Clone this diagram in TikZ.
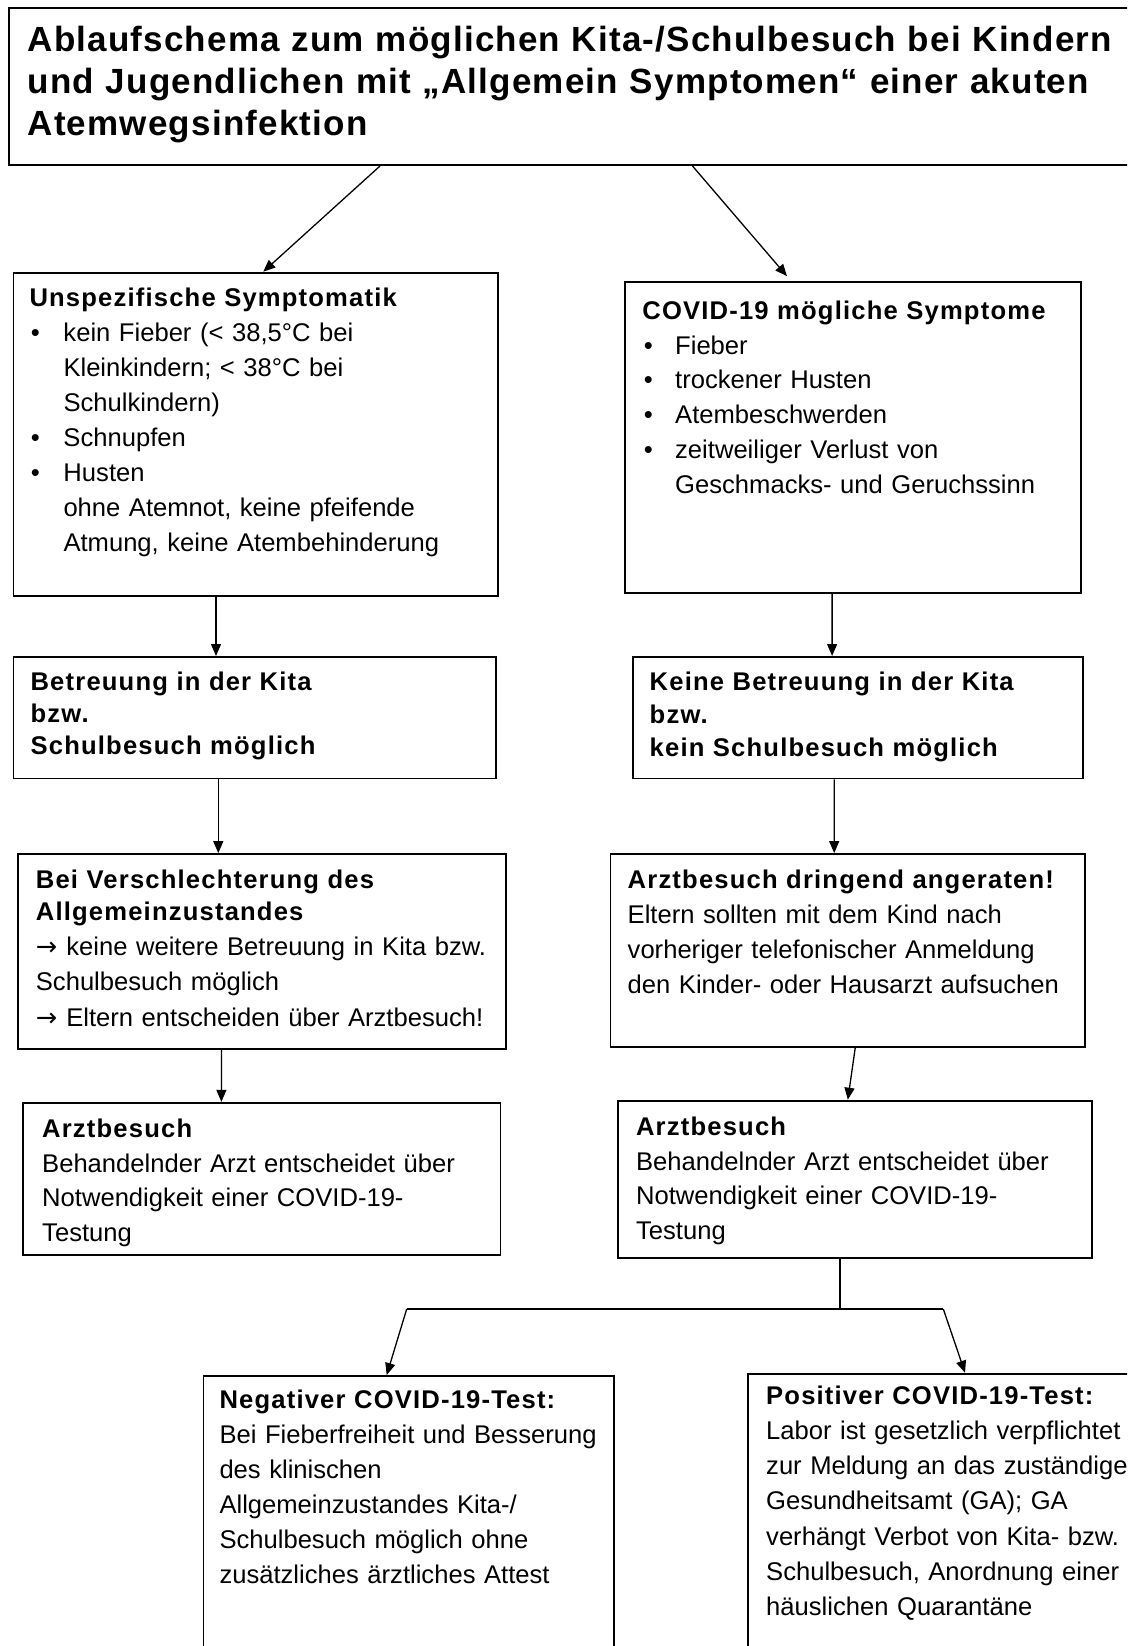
\documentclass[tikz,border=0pt]{standalone}
\usepackage{fontspec}
\setmainfont{Liberation Sans}
\newfontfamily\hdfam[LetterSpace=4.6]{Liberation Sans}
\newfontfamily\ttlfam[LetterSpace=3.4]{Liberation Sans}
\newfontfamily\arrfam{DejaVu Sans}
\usetikzlibrary{arrows.meta}
\newcommand\hd{\hdfam\bfseries}
\newcommand\mybul[1]{\makebox[#1][l]{\hspace{1.5pt}•}}
\newcommand\myind[1]{\hspace*{#1}}
\newcommand\myarr{{\arrfam →}\hspace{9pt}}
\begin{document}
\begin{tikzpicture}[x=1pt,y=-1pt,
  box/.style={draw, line width=1.8pt, inner sep=0pt, anchor=north west, rectangle},
  txt/.style={anchor=north west, inner sep=0pt, align=left, text width=600pt},
  body/.style={font=\fontsize{25.6}{#1}\selectfont},
  conn/.style={-{Triangle[length=12pt,width=10pt]}, line width=1.3pt},
  plain/.style={line width=1.5pt}]
\useasboundingbox (0,0) rectangle (1127,1646);
\clip (0,0) rectangle (1127,1646);
\fill[white] (0,0) rectangle (1127,1646);

% boxes
\node[box, line width=2pt, minimum width=1131.6pt, minimum height=157pt] (T) at (8.4,7) {};
\node[box, minimum width=484.9pt, minimum height=323.3pt] (A) at (12.5,271.7) {};
\node[box, minimum width=455.4pt, minimum height=310.6pt] (B) at (624.3,281.2) {};
\node[box, minimum width=482.7pt, minimum height=121.5pt] (C) at (12.6,656) {};
\node[box, minimum width=450.1pt, minimum height=121.5pt] (D) at (631.7,656) {};
\node[box, minimum width=487.9pt, minimum height=195.2pt] (E) at (16.8,853.1) {};
\node[box, minimum width=474.3pt, minimum height=193.1pt] (F) at (609.6,853.1) {};
\node[box, minimum width=477.5pt, minimum height=152.1pt] (G) at (22,1101.8) {};
\node[box, minimum width=474.3pt, minimum height=157pt] (H) at (617,1099.7) {};
\node[box, minimum width=410.3pt, minimum height=325pt] (I) at (202.5,1375) {};
\node[box, minimum width=392.9pt, minimum height=327.3pt] (J) at (747.1,1372.7) {};

% texts
\node[txt, text width=1150pt, font=\ttlfam\bfseries\fontsize{35}{42}\selectfont] (Tt) at (27.5,23)
 {\rule{0pt}{28pt}Ablaufschema zum möglichen Kita-/Schulbesuch bei Kindern\\
  und Jugendlichen mit „Allgemein Symptomen“ einer akuten\\
  Atemwegsinfektion};

\node[txt, body=34.9] (At) at (29.3,286.5)
 {\rule{0pt}{20pt}{\hd Unspezifische Symptomatik}\\
  \mybul{34pt}kein Fieber (< 38,5°C bei\\
  \myind{34pt}Kleinkindern; < 38°C bei\\
  \myind{34pt}Schulkindern)\\
  \mybul{34pt}Schnupfen\\
  \mybul{34pt}Husten\\
  \myind{34pt}ohne Atemnot, keine pfeifende\\
  \myind{34pt}Atmung, keine Atembehinderung};

\node[txt, body=34.8] (Bt) at (642.2,299)
 {\rule{0pt}{20pt}{\hd COVID-19 mögliche Symptome}\\
  \mybul{32.8pt}Fieber\\
  \mybul{32.8pt}trockener Husten\\
  \mybul{32.8pt}Atembeschwerden\\
  \mybul{32.8pt}zeitweiliger Verlust von\\
  \myind{32.8pt}Geschmacks- und Geruchssinn};

\node[txt, body=32] (Ct) at (30.4,670.5)
 {\rule{0pt}{20pt}\hd Betreuung in der Kita\\bzw.\\Schulbesuch möglich};

\node[txt, body=33] (Dt) at (649.5,670.5)
 {\rule{0pt}{20pt}\hd Keine Betreuung in der Kita\\bzw.\\kein Schulbesuch möglich};

\node[txt, body=35.1] (Et) at (35.7,867.8)
 {\rule{0pt}{20pt}{\hd Bei Verschlechterung des}\\[-2.4pt]
  {\hd Allgemeinzustandes}\\
  \myarr keine weitere Betreuung in Kita bzw.\\
  Schulbesuch möglich\\
  \myarr Eltern entscheiden über Arztbesuch!};

\node[txt, body=35.2] (Ft) at (627.5,867.8)
 {\rule{0pt}{20pt}{\hd Arztbesuch dringend angeraten!}\\
  Eltern sollten mit dem Kind nach\\
  vorheriger telefonischer Anmeldung\\
  den Kinder- oder Hausarzt aufsuchen};

\node[txt, body=34.5] (Gt) at (42,1117.5)
 {\rule{0pt}{20pt}{\hd Arztbesuch}\\
  Behandelnder Arzt entscheidet über\\
  Notwendigkeit einer COVID-19-\\
  Testung};

\node[txt, body=34.5] (Ht) at (635.9,1115.4)
 {\rule{0pt}{20pt}{\hd Arztbesuch}\\
  Behandelnder Arzt entscheidet über\\
  Notwendigkeit einer COVID-19-\\
  Testung};

\node[txt, body=35.0] (It) at (219.3,1388.3)
 {\rule{0pt}{20pt}{\hd Negativer COVID-19-Test:}\\
  Bei Fieberfreiheit und Besserung\\
  des klinischen\\
  Allgemeinzustandes Kita-/\\
  Schulbesuch möglich ohne\\
  zusätzliches ärztliches Attest};

\node[txt, body=35.2] (Jt) at (766,1384.1)
 {\rule{0pt}{20pt}{\hd Positiver COVID-19-Test:}\\
  Labor ist gesetzlich verpflichtet\\
  zur Meldung an das zuständige\\
  Gesundheitsamt (GA); GA\\
  verhängt Verbot von Kita- bzw.\\
  Schulbesuch, Anordnung einer\\
  häuslichen Quarantäne};

% connectors
\draw[conn] ([xshift=371.6pt]T.south west) -- ([xshift=250.8pt]A.north west);
\draw[conn] ([xshift=684.1pt]T.south west) -- ([xshift=162.7pt,yshift=5pt]B.north west);
\draw[conn] ([xshift=203.5pt]A.south west) -- ([xshift=203.4pt]C.north west);
\draw[conn] ([xshift=207.8pt]B.south west) -- ([xshift=200.4pt]D.north west);
\draw[conn] ([xshift=205.7pt]C.south west) -- ([xshift=201.5pt]E.north west);
\draw[conn] ([xshift=202.5pt]D.south west) -- ([xshift=224.6pt]F.north west);
\draw[conn] ([xshift=204.6pt]E.south west) -- ([xshift=199.4pt]G.north west);
\draw[conn] ([xshift=245.6pt]F.south west) -- ([xshift=230.8pt]H.north west);

\coordinate (sp) at (840,1309);
\coordinate (spl) at (406.7,1309);
\coordinate (spr) at (943.3,1309);
\draw[plain] ([xshift=223pt]H.south west) -- (sp);
\draw[plain] (spl) -- (spr);
\draw[conn] (spl) -- ([xshift=184.2pt]I.north west);
\draw[conn] (spr) -- ([xshift=217.9pt]J.north west);
\end{tikzpicture}
\end{document}
